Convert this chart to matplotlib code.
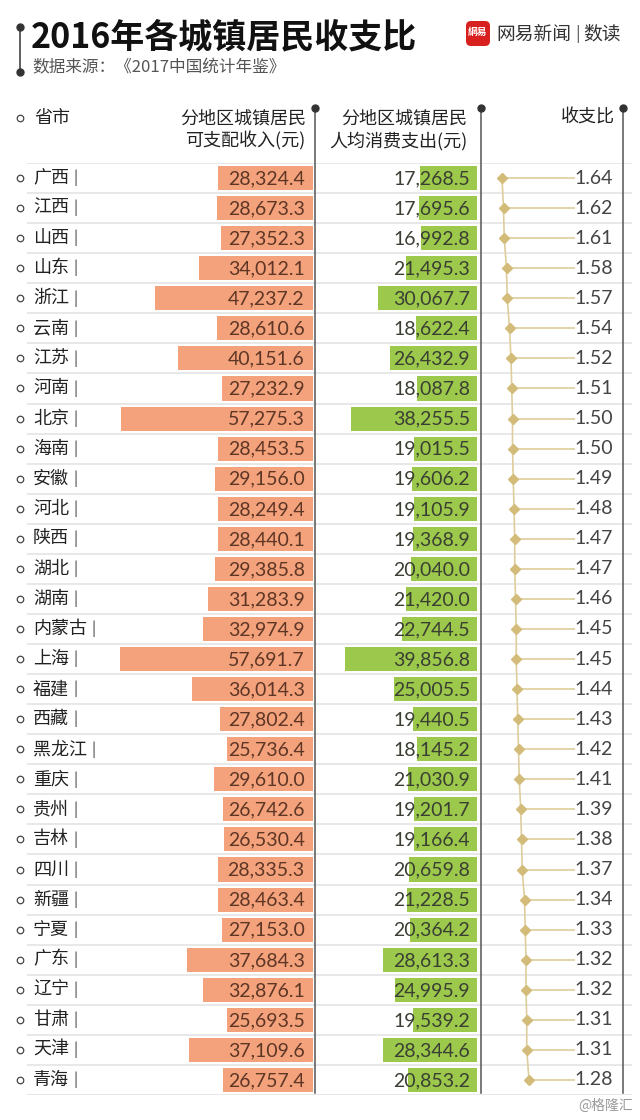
import numpy as np
import matplotlib
matplotlib.use("Agg")
import matplotlib.pyplot as plt
from matplotlib.patches import FancyBboxPatch

plt.rcParams['font.family'] = ['Noto Sans CJK SC', 'DejaVu Sans']

# ---------------- data ----------------
provinces = ["广西", "江西", "山西", "山东", "浙江", "云南", "江苏", "河南", "北京", "海南",
             "安徽", "河北", "陕西", "湖北", "湖南", "内蒙古", "上海", "福建", "西藏", "黑龙江",
             "重庆", "贵州", "吉林", "四川", "新疆", "宁夏", "广东", "辽宁", "甘肃", "天津", "青海"]
income = [28324.4, 28673.3, 27352.3, 34012.1, 47237.2, 28610.6, 40151.6, 27232.9, 57275.3, 28453.5,
          29156.0, 28249.4, 28440.1, 29385.8, 31283.9, 32974.9, 57691.7, 36014.3, 27802.4, 25736.4,
          29610.0, 26742.6, 26530.4, 28335.3, 28463.4, 27153.0, 37684.3, 32876.1, 25693.5, 37109.6,
          26757.4]
expense = [17268.5, 17695.6, 16992.8, 21495.3, 30067.7, 18622.4, 26432.9, 18087.8, 38255.5, 19015.5,
           19606.2, 19105.9, 19368.9, 20040.0, 21420.0, 22744.5, 39856.8, 25005.5, 19440.5, 18145.2,
           21030.9, 19201.7, 19166.4, 20659.8, 21228.5, 20364.2, 28613.3, 24995.9, 19539.2, 28344.6,
           20853.2]
ratio = [1.64, 1.62, 1.61, 1.58, 1.57, 1.54, 1.52, 1.51, 1.50, 1.50,
         1.49, 1.48, 1.47, 1.47, 1.46, 1.45, 1.45, 1.44, 1.43, 1.42,
         1.41, 1.39, 1.38, 1.37, 1.34, 1.33, 1.32, 1.32, 1.31, 1.31,
         1.28]

title = "2016年各城镇居民收支比"
subtitle = "数据来源：《2017中国统计年鉴》"
col_headers = ["省市", "分地区城镇居民\n可支配收入(元)", "分地区城镇居民\n人均消费支出(元)", "收支比"]

# ---------------- style ----------------
W, H = 640, 1120
C_INC = "#F3A27B"
C_EXP = "#9CC84B"
C_GOLD = "#D3BB7A"
C_GOLD_L = "#DDCD9C"
C_TXT = "#222222"
C_VL = "#555555"
NUMF = ['Lato', 'DejaVu Sans']

n = len(provinces)
rows = np.arange(n)
ROW_TOP, ROW_BOT = 163, 1095   # pixel band of the table body

fig = plt.figure(figsize=(W / 100, H / 100), dpi=100)
fig.patch.set_facecolor("white")


def px_axes(x0, y0, x1, y1, z):
    ax = fig.add_axes([x0 / W, 1 - y1 / H, (x1 - x0) / W, (y1 - y0) / H])
    ax.set_zorder(z)
    ax.patch.set_alpha(0)
    ax.axis("off")
    return ax


# ---- table background axes (rows) ----
tab = px_axes(0, ROW_TOP, W, ROW_BOT, 0)
tab.set_xlim(0, W)
tab.set_ylim(n - 0.5, -0.5)
tab.hlines(np.arange(-0.5, n, 1.0), 27, 632, color="#E6E6E6", lw=1.3)
tab.scatter(np.full(n, 20), rows, s=22, facecolor="white", edgecolor="#444444", lw=0.9, zorder=3)
for i, name in enumerate(provinces):
    tab.text(33, i, name, fontsize=13, color=C_TXT, va="center", ha="left")
    tab.annotate("|", xy=(33, i), xytext=(len(name) * 13 + 3, 0), textcoords="offset points",
                 fontsize=12, color="#555555", va="center", ha="left", family=NUMF)

# ---- income bars ----
inc_scale = 0.00335  # px per yuan
ax_inc = px_axes(100, ROW_TOP, 313, ROW_BOT, 1)
ax_inc.set_xlim((313 - 100) / inc_scale, 0)
ax_inc.set_ylim(n - 0.5, -0.5)
ax_inc.barh(rows, income, height=0.8, color=C_INC)
for i, v in enumerate(income):
    ax_inc.annotate(f"{v:,.1f}", xy=(0, i), xytext=(-6, -0.5), textcoords="offset points",
                    ha="right", va="center", fontsize=14, color="#5E3626",
                    family=NUMF)

# ---- expense bars ----
exp_scale = 0.0033
ax_exp = px_axes(330, ROW_TOP, 477, ROW_BOT, 1)
ax_exp.set_xlim((477 - 330) / exp_scale, 0)
ax_exp.set_ylim(n - 0.5, -0.5)
ax_exp.barh(rows, expense, height=0.8, color=C_EXP)
for i, v in enumerate(expense):
    ax_exp.annotate(f"{v:,.1f}", xy=(0, i), xytext=(-5, -0.5), textcoords="offset points",
                    ha="right", va="center", fontsize=14, color="#3A3F33",
                    family=NUMF)

# ---- ratio lollipops ----
r_px = 75.0          # px per ratio unit
x_l, x_r = 481, 622
r_ref, px_ref = 1.64, 502
ax_r = px_axes(x_l, ROW_TOP, x_r, ROW_BOT, 1)
ax_r.set_xlim(r_ref + (px_ref - x_l) / r_px, r_ref - (x_r - px_ref) / r_px)
ax_r.set_ylim(n - 0.5, -0.5)
stem_end = r_ref - (575 - px_ref) / r_px
ax_r.hlines(rows, ratio, stem_end, color=C_GOLD_L, lw=1.2, zorder=1)
ax_r.plot(ratio, rows, color=C_GOLD_L, lw=1.2, zorder=1)
ax_r.plot(ratio, rows, ls="none", marker="D", ms=5, color=C_GOLD, zorder=2)
lab_x = (613 - x_l) / (x_r - x_l)
for i, r in enumerate(ratio):
    ax_r.text(lab_x, i, f"{r:.2f}", transform=ax_r.get_yaxis_transform(),
              ha="right", va="center", fontsize=14, color="#444444",
              family=NUMF)

# ---- decoration / header axes (pixel coordinates) ----
dec = px_axes(0, 0, W, H, 2)
dec.set_xlim(0, W)
dec.set_ylim(H, 0)

# title block
dec.plot([20, 20], [27, 72], color="#444444", lw=1.2)
dec.plot([20, 20], [27, 72], ls="none", marker="o", ms=5, color="#333333")
dec.text(31, 37, title, fontsize=24.5, fontweight="black", color="#111111", va="center", ha="left")
dec.text(32, 68, subtitle, fontsize=12, color="#555555", va="center", ha="left")

# logo
logo = FancyBboxPatch((466, 21), 24, 25, boxstyle="round,pad=0,rounding_size=5",
                      facecolor="#D8201E", edgecolor="none")
dec.add_patch(logo)
dec.text(478, 32, "網易", fontsize=7, color="white", ha="center", va="center", fontweight="bold")
dec.text(496, 34, "网易新闻", fontsize=13.5, color="#333333", ha="left", va="center")
dec.text(578, 34, "|", fontsize=12, color="#555555", ha="center", va="center")
dec.text(583, 34, "数读", fontsize=13.5, color="#333333", ha="left", va="center")

# column headers
dec.scatter([20], [118], s=22, facecolor="white", edgecolor="#444444", lw=0.9)
dec.text(34, 118, col_headers[0], fontsize=13, color=C_TXT, va="center", ha="left")
dec.text(306, 130, col_headers[1], fontsize=13, color=C_TXT, va="center", ha="right",
         linespacing=1.25)
dec.text(467, 130, col_headers[2], fontsize=13, color=C_TXT, va="center", ha="right",
         linespacing=1.25)
dec.text(615, 118, col_headers[3], fontsize=13, color=C_TXT, va="center", ha="right")

# vertical dividers with dots
for xv in (315, 481, 623):
    dec.plot([xv, xv], [108, 1093], color=C_VL, lw=1.1)
    dec.plot([xv], [108], marker="o", ms=5, color="#333333")

dec.text(633, 1106, "@格隆汇", fontsize=10, color="#9A9A9A", ha="right", va="center")

fig.savefig("out.png", dpi=100, facecolor="white")
